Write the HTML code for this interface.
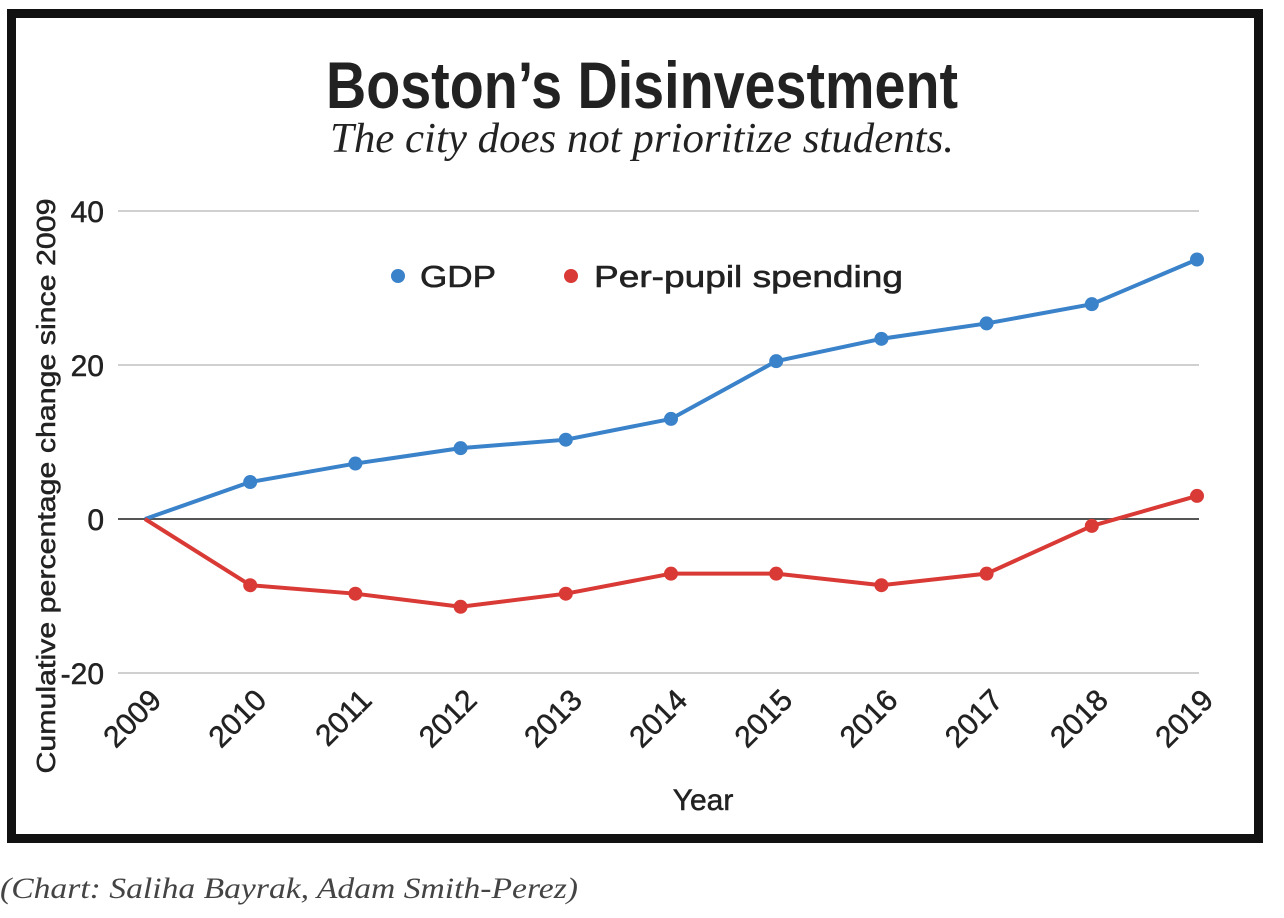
<!DOCTYPE html>
<html><head><meta charset="utf-8"><style>body{margin:0;background:#fff}svg{display:block}</style></head>
<body>
<svg id="chart" width="1284" height="918" xmlns="http://www.w3.org/2000/svg" font-family="Liberation Sans, sans-serif">
<rect x="11.5" y="13.5" width="1247" height="825" fill="#fff" stroke="#111" stroke-width="9"/>
<text x="642" y="108" text-anchor="middle" font-size="66" font-weight="bold" fill="#222" textLength="632" lengthAdjust="spacingAndGlyphs">Boston’s Disinvestment</text>
<text x="642" y="152" text-anchor="middle" font-family="Liberation Serif, serif" font-style="italic" font-size="42" fill="#222" textLength="624" lengthAdjust="spacingAndGlyphs">The city does not prioritize students.</text>
<g id="grid"></g>
<g id="lines"></g>
<g stroke="#222" stroke-width="0.6">
<circle cx="398" cy="276" r="7" fill="#3a82c9" stroke="none"/>
<text x="420" y="287" font-size="31" fill="#222" textLength="76" lengthAdjust="spacingAndGlyphs">GDP</text>
<circle cx="571" cy="276" r="7" fill="#d93a35" stroke="none"/>
<text x="594" y="287" font-size="31" fill="#222" textLength="309" lengthAdjust="spacingAndGlyphs">Per-pupil spending</text>
</g>
<text transform="translate(55,486) rotate(-90)" text-anchor="middle" font-size="26" fill="#222" stroke="#222" stroke-width="0.5" textLength="575" lengthAdjust="spacingAndGlyphs">Cumulative percentage change since 2009</text>
<text x="703" y="810" text-anchor="middle" font-size="30" fill="#222" stroke="#222" stroke-width="0.5">Year</text>
<text x="0" y="898" font-family="Liberation Serif, serif" font-style="italic" font-size="30" fill="#444" textLength="578" lengthAdjust="spacingAndGlyphs">(Chart: Saliha Bayrak, Adam Smith-Perez)</text>
</svg>
<script>
const years=[2009,2010,2011,2012,2013,2014,2015,2016,2017,2018,2019];
const gdp=[0,4.8,7.2,9.2,10.3,13,20.5,23.4,25.4,27.9,33.7];
const spending=[0,-8.6,-9.7,-11.4,-9.7,-7.1,-7.1,-8.6,-7.1,-0.9,3.0];
const yTicks=[-20,0,20,40];
const NS="http://www.w3.org/2000/svg";
const xS=i=>145+i*(1197-145)/(years.length-1);
const yS=v=>519-v*7.7;
const grid=document.getElementById('grid'),lines=document.getElementById('lines');
function mk(tag,attrs,parent){const e=document.createElementNS(NS,tag);for(const k in attrs)e.setAttribute(k,attrs[k]);parent.appendChild(e);return e;}
yTicks.forEach(t=>{
 const l=mk('line',{x1:118,x2:1199,y1:yS(t),y2:yS(t),stroke:t===0?'#555':'#d0d0d0','stroke-width':2},grid);
 
 
 const tx=mk('text',{x:104,y:yS(t)+11,'text-anchor':'end','font-size':30,fill:'#222',stroke:'#222','stroke-width':0.5},grid);
 tx.textContent=t;
 
 
});
years.forEach((yr,i)=>{
 const tx=mk('text',{transform:`translate(${xS(i)+18},${702}) rotate(-45)`,'text-anchor':'end','font-size':30,fill:'#222',stroke:'#222','stroke-width':0.5},grid);
 tx.textContent=yr;
 
 
});
function series(vals,color,name){
 const p=mk('polyline',{points:vals.map((v,i)=>xS(i)+','+yS(v)).join(' '),fill:'none',stroke:color,'stroke-width':4,'stroke-linejoin':'round'},lines);
 
 
 vals.forEach((v,i)=>{if(i===0)return;
  const c=mk('circle',{cx:xS(i),cy:yS(v),r:7,fill:color},lines);
  
  
 });
}
series(gdp,'#3a82c9','gdp');
series(spending,'#d93a35','spending');
</script>
</body></html>
